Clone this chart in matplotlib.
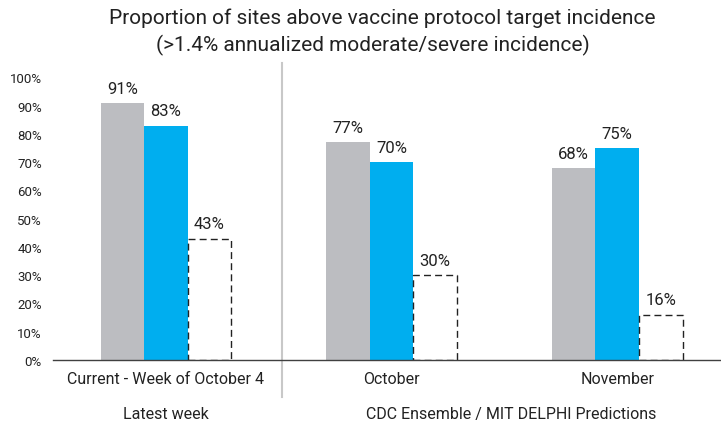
import matplotlib

matplotlib.use("Agg")

import matplotlib.pyplot as plt
import numpy as np

plt.rcParams["font.family"] = ["Roboto", "DejaVu Sans"]

# data
categories = ["Current - Week of October 4", "October", "November"]
observed = [91, 77, 68]
predicted = [83, 70, 75]
threshold = [43, 30, 16]
yticks = list(range(0, 101, 10))

GRAY = "#bcbdc1"
BLUE = "#00aeef"
INK = "#222222"

fig = plt.figure(figsize=(7.21, 4.27), dpi=100)
ax = fig.add_axes([0.0735, 0.1546, 0.925, 0.6616])

x = np.arange(len(categories))
w = 0.193

b1 = ax.bar(x - w, observed, w, color=GRAY, linewidth=0)
b2 = ax.bar(x, predicted, w, color=BLUE, linewidth=0)
b3 = ax.bar(x + w, threshold, w, facecolor="white", edgecolor=INK,
            linewidth=1.0, linestyle=(0, (5, 3)))

for bars, vals in ((b1, observed), (b2, predicted), (b3, threshold)):
    for rect, v in zip(bars, vals):
        ax.text(rect.get_x() + rect.get_width() / 2, v + 2.6, f"{v}%",
                ha="center", va="bottom", fontsize=12, color=INK,
                clip_on=False)

ax.set_xlim(-0.5, 2.455)
ax.set_ylim(0, 100)
ax.set_yticks(yticks)
ax.set_yticklabels([f"{t}%" for t in yticks], fontsize=9.5, color=INK)
ax.tick_params(axis="y", length=0, pad=8)
ax.set_xticks(x)
ax.set_xticklabels(categories, fontsize=11.5, color=INK)
ax.tick_params(axis="x", length=0, pad=8)

for side in ("left", "right", "top"):
    ax.spines[side].set_visible(False)
ax.spines["bottom"].set_color("#404040")
ax.spines["bottom"].set_linewidth(1.0)

# vertical separator between latest week and predictions
ax.plot([0.514, 0.514], [-0.132, 1.05], transform=ax.get_xaxis_transform(),
        color="#c8c8c8", linewidth=1.5, clip_on=False)

# group labels
ax.text(0, -0.19, "Latest week", transform=ax.get_xaxis_transform(),
        ha="center", va="center", fontsize=11.5, color=INK)
ax.text(1.53, -0.19, "CDC Ensemble / MIT DELPHI Predictions",
        transform=ax.get_xaxis_transform(),
        ha="center", va="center", fontsize=11.5, color=INK)

fig.text(382 / 721, 1 - 18 / 427, "Proportion of sites above vaccine protocol target incidence",
         ha="center", va="center", fontsize=15, color=INK)
fig.text(373 / 721, 1 - 45 / 427, "(>1.4% annualized moderate/severe incidence)",
         ha="center", va="center", fontsize=15, color=INK)

fig.savefig("out.png", dpi=100)
